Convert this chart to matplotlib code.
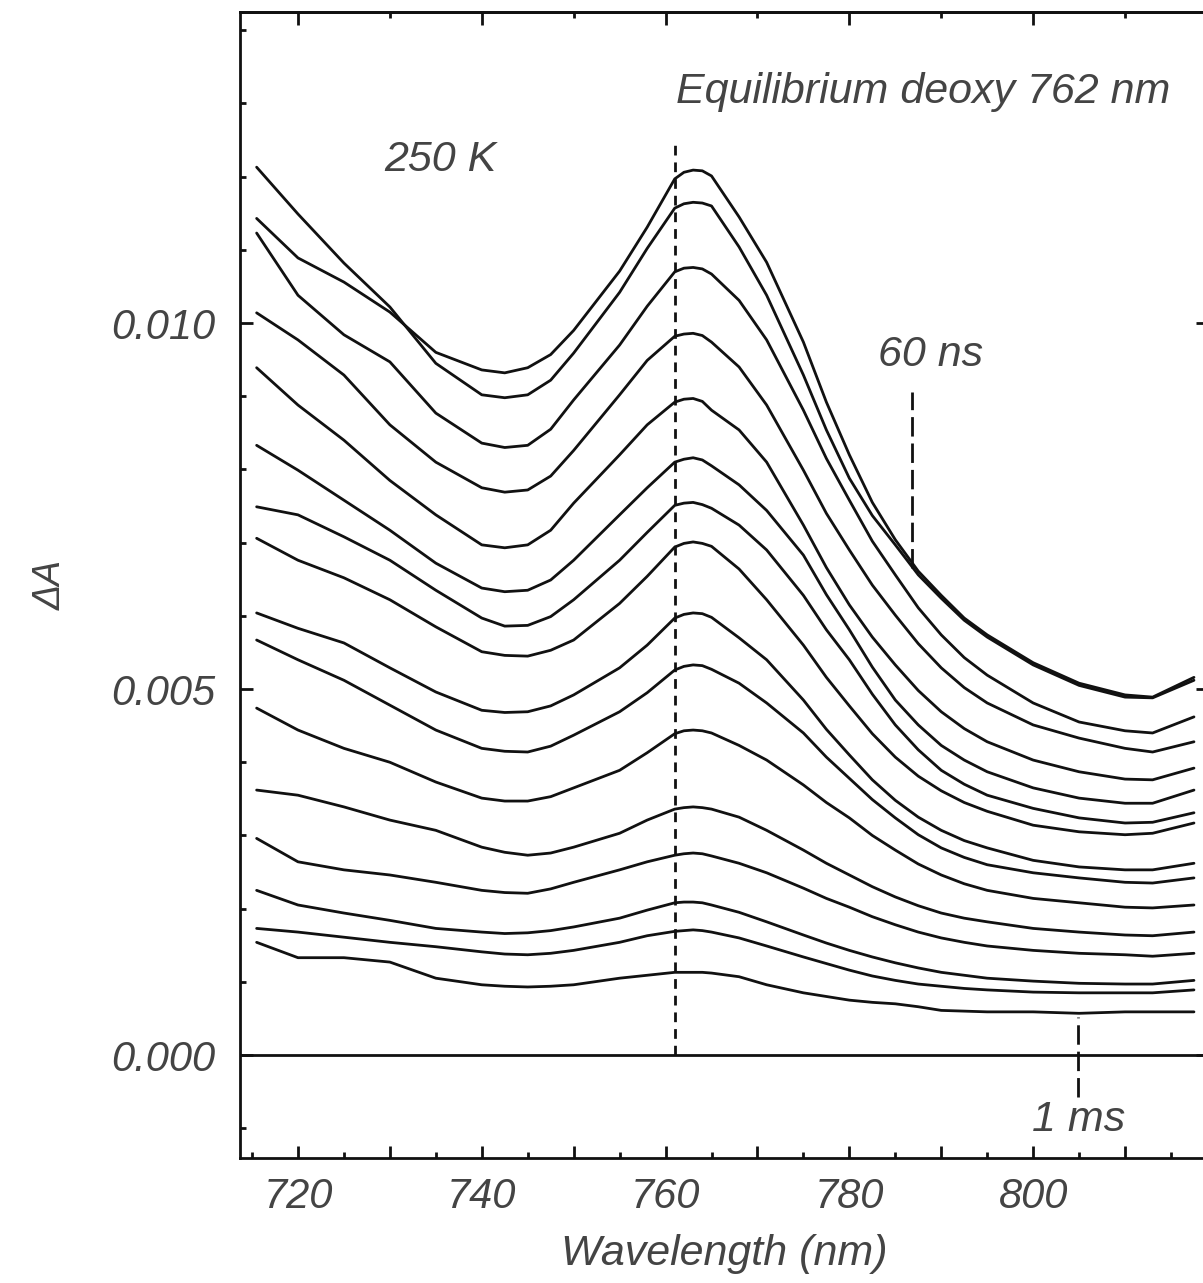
import numpy as np
import matplotlib
matplotlib.use("Agg")
import matplotlib.pyplot as plt
from matplotlib.ticker import MultipleLocator, FixedLocator

plt.rcParams['font.family'] = ['Liberation Sans', 'DejaVu Sans']

# Wavelength grid (nm)
wavelength = [715.5, 720, 725, 730, 735, 740, 742.5, 745, 747.5, 750, 755, 758, 761, 762,
              763, 764, 765, 768, 771, 775, 777.5, 780, 782.5, 785, 787.5, 790, 792.5,
              795, 800, 805, 810, 813, 817.5]

# Transient difference spectra, Delta A in units of 1e-3 (60 ns at top ... 1 ms at bottom)
s00 = [11.43, 10.89, 10.56, 10.15, 9.60, 9.36, 9.32, 9.39, 9.57, 9.90, 10.71, 11.31, 11.97, 12.06,
       12.09, 12.08, 12.01, 11.45, 10.83, 9.74, 8.92, 8.20, 7.55, 7.04, 6.61, 6.28, 5.97,
       5.74, 5.36, 5.08, 4.92, 4.89, 5.16]
s01 = [12.13, 11.49, 10.82, 10.22, 9.45, 9.02, 8.98, 9.02, 9.22, 9.59, 10.42, 11.02, 11.57, 11.63,
       11.65, 11.64, 11.60, 11.04, 10.38, 9.29, 8.54, 7.88, 7.37, 6.97, 6.56, 6.24, 5.94,
       5.71, 5.33, 5.05, 4.89, 4.88, 5.12]
s02 = [11.23, 10.38, 9.84, 9.47, 8.77, 8.36, 8.30, 8.33, 8.55, 8.95, 9.70, 10.23, 10.70, 10.75,
       10.76, 10.74, 10.67, 10.31, 9.77, 8.81, 8.15, 7.58, 7.02, 6.56, 6.11, 5.74, 5.43,
       5.19, 4.81, 4.55, 4.43, 4.40, 4.62]
s03 = [10.14, 9.77, 9.29, 8.61, 8.10, 7.75, 7.69, 7.72, 7.91, 8.26, 9.02, 9.49, 9.82, 9.85,
       9.86, 9.83, 9.74, 9.40, 8.88, 7.99, 7.40, 6.90, 6.42, 6.01, 5.62, 5.29, 5.02,
       4.81, 4.51, 4.33, 4.19, 4.14, 4.28]
s04 = [9.39, 8.88, 8.40, 7.85, 7.38, 6.97, 6.93, 6.97, 7.17, 7.54, 8.20, 8.61, 8.92, 8.96,
       8.97, 8.93, 8.81, 8.54, 8.10, 7.24, 6.66, 6.15, 5.71, 5.33, 4.98, 4.69, 4.46,
       4.28, 4.03, 3.87, 3.77, 3.76, 3.92]
s05 = [8.33, 7.99, 7.58, 7.17, 6.72, 6.38, 6.33, 6.35, 6.49, 6.76, 7.38, 7.75, 8.10, 8.14,
       8.16, 8.13, 8.05, 7.79, 7.44, 6.83, 6.29, 5.81, 5.30, 4.85, 4.51, 4.23, 4.03,
       3.87, 3.65, 3.51, 3.44, 3.44, 3.62]
s06 = [7.49, 7.38, 7.08, 6.76, 6.35, 5.97, 5.86, 5.87, 5.99, 6.22, 6.76, 7.14, 7.51, 7.54,
       7.55, 7.52, 7.47, 7.24, 6.90, 6.28, 5.81, 5.40, 4.93, 4.51, 4.17, 3.89, 3.70,
       3.55, 3.37, 3.24, 3.17, 3.18, 3.31]
s07 = [7.06, 6.76, 6.52, 6.22, 5.85, 5.51, 5.46, 5.45, 5.53, 5.67, 6.17, 6.54, 6.94, 6.99,
       7.01, 6.99, 6.95, 6.64, 6.22, 5.60, 5.16, 4.77, 4.39, 4.07, 3.81, 3.61, 3.45,
       3.33, 3.14, 3.05, 3.01, 3.03, 3.17]
s08 = [6.04, 5.83, 5.63, 5.29, 4.96, 4.71, 4.68, 4.69, 4.77, 4.92, 5.29, 5.60, 5.97, 6.02,
       6.04, 6.03, 5.98, 5.70, 5.40, 4.85, 4.45, 4.10, 3.76, 3.48, 3.25, 3.07, 2.93,
       2.83, 2.66, 2.57, 2.53, 2.53, 2.62]
s09 = [5.67, 5.40, 5.12, 4.78, 4.44, 4.19, 4.15, 4.14, 4.22, 4.37, 4.69, 4.95, 5.26, 5.31,
       5.33, 5.32, 5.27, 5.08, 4.81, 4.40, 4.07, 3.78, 3.49, 3.24, 3.01, 2.83, 2.70,
       2.60, 2.49, 2.42, 2.36, 2.35, 2.42]
s10 = [4.74, 4.44, 4.19, 4.00, 3.73, 3.51, 3.47, 3.47, 3.53, 3.65, 3.89, 4.13, 4.39, 4.43,
       4.44, 4.43, 4.40, 4.23, 4.03, 3.69, 3.45, 3.24, 3.00, 2.80, 2.61, 2.46, 2.34,
       2.25, 2.14, 2.08, 2.02, 2.01, 2.05]
s11 = [3.62, 3.55, 3.39, 3.21, 3.07, 2.84, 2.77, 2.73, 2.76, 2.84, 3.03, 3.21, 3.36, 3.38,
       3.39, 3.38, 3.36, 3.25, 3.07, 2.80, 2.62, 2.46, 2.30, 2.16, 2.04, 1.94, 1.87,
       1.82, 1.73, 1.68, 1.64, 1.63, 1.68]
s12 = [2.96, 2.64, 2.53, 2.46, 2.36, 2.25, 2.22, 2.21, 2.27, 2.36, 2.53, 2.64, 2.73, 2.75,
       2.76, 2.75, 2.72, 2.62, 2.49, 2.28, 2.14, 2.02, 1.89, 1.78, 1.68, 1.60, 1.54,
       1.49, 1.43, 1.39, 1.37, 1.35, 1.39]
s13 = [2.25, 2.05, 1.94, 1.84, 1.73, 1.68, 1.66, 1.67, 1.70, 1.75, 1.87, 1.98, 2.08, 2.09,
       2.09, 2.08, 2.05, 1.95, 1.82, 1.64, 1.53, 1.43, 1.34, 1.26, 1.19, 1.13, 1.09,
       1.05, 1.01, 0.98, 0.97, 0.97, 1.02]
s14 = [1.73, 1.68, 1.61, 1.54, 1.48, 1.41, 1.38, 1.37, 1.39, 1.43, 1.54, 1.63, 1.69, 1.70,
       1.71, 1.70, 1.68, 1.60, 1.49, 1.34, 1.25, 1.16, 1.08, 1.02, 0.97, 0.94, 0.91,
       0.89, 0.86, 0.85, 0.85, 0.85, 0.89]
s15 = [1.54, 1.33, 1.33, 1.27, 1.05, 0.96, 0.94, 0.93, 0.94, 0.96, 1.05, 1.09, 1.13, 1.13,
       1.13, 1.13, 1.12, 1.07, 0.96, 0.85, 0.80, 0.75, 0.72, 0.70, 0.66, 0.61, 0.60,
       0.59, 0.59, 0.57, 0.59, 0.59, 0.59]

spectra = [s00, s01, s02, s03, s04, s05, s06, s07, s08, s09, s10, s11, s12, s13, s14, s15]

x_ticks = [720, 740, 760, 780, 800]
y_ticks = [0.000, 0.005, 0.010]
deoxy_peak = 761.0

fig = plt.figure(figsize=(12.03, 12.83), dpi=100)
ax = fig.add_axes([0.1995, 0.0974, 0.8046, 0.8932])

ink = '#111111'
txt = '#444444'

for s in spectra:
    ax.plot(wavelength, np.array(s) * 1e-3, color=ink, lw=2.0,
            solid_capstyle='round', solid_joinstyle='round')

# zero line
ax.axhline(0.0, color=ink, lw=2.0)
# equilibrium deoxy marker
ax.plot([deoxy_peak, deoxy_peak], [0.0, 0.01247], color=ink, lw=2.0,
        linestyle=(0, (3.5, 2.5)))
# 60 ns marker
ax.plot([786.8, 786.8], [0.00665, 0.00906], color=ink, lw=2.0, linestyle=(0, (7, 2.5)))
# 1 ms marker
ax.plot([804.9, 804.9], [-0.00057, 0.00052], color=ink, lw=2.0, linestyle=(0, (7, 2.5)))

ax.set_xlim(713.69, 819.02)
ax.set_ylim(-0.001407, 0.014249)

fs = 30
ax.text(735.5, 0.01223, '250 K', fontsize=31, style='italic', color=txt,
        ha='center', va='center')
ax.text(788.0, 0.01316, 'Equilibrium deoxy 762 nm', fontsize=31, style='italic',
        color=txt, ha='center', va='center')
ax.text(788.8, 0.00956, '60 ns', fontsize=31, style='italic', color=txt,
        ha='center', va='center')
ax.text(804.9, -0.00089, '1 ms', fontsize=31, style='italic', color=txt,
        ha='center', va='center')

ax.xaxis.set_major_locator(FixedLocator(list(range(720, 820, 10))))
ax.xaxis.set_minor_locator(MultipleLocator(5))
ax.set_xticklabels([str(v) if v in x_ticks else '' for v in range(720, 820, 10)])
ax.yaxis.set_major_locator(FixedLocator(y_ticks))
ax.yaxis.set_minor_locator(MultipleLocator(0.001))
ax.set_yticklabels(['%.3f' % v for v in y_ticks])

ax.tick_params(axis='both', which='major', direction='in', length=9, width=2,
               labelsize=fs, labelcolor=txt, color=ink)
ax.tick_params(axis='both', which='minor', direction='in', length=4, width=2, color=ink)
ax.tick_params(axis='x', which='major', pad=14)
ax.tick_params(axis='y', which='major', pad=18)
ax.tick_params(axis='y', which='both', right=True)
ax.tick_params(axis='y', which='minor', right=False)
for lab in ax.get_xticklabels() + ax.get_yticklabels():
    lab.set_fontstyle('italic')

top = ax.secondary_xaxis('top')
top.xaxis.set_major_locator(MultipleLocator(20))
top.xaxis.set_minor_locator(MultipleLocator(10))
top.tick_params(which='major', direction='in', length=9, width=2, labeltop=False, color=ink)
top.tick_params(which='minor', direction='in', length=4, width=2, color=ink)
top.spines['top'].set_linewidth(2)

for sp in ax.spines.values():
    sp.set_linewidth(2)
    sp.set_color(ink)

ax.set_xlabel('Wavelength (nm)', fontsize=31, style='italic', color=txt, labelpad=12)
ax.set_ylabel('ΔA', fontsize=27, style='italic', color=txt, labelpad=30)

fig.savefig('out.png', dpi=100)
